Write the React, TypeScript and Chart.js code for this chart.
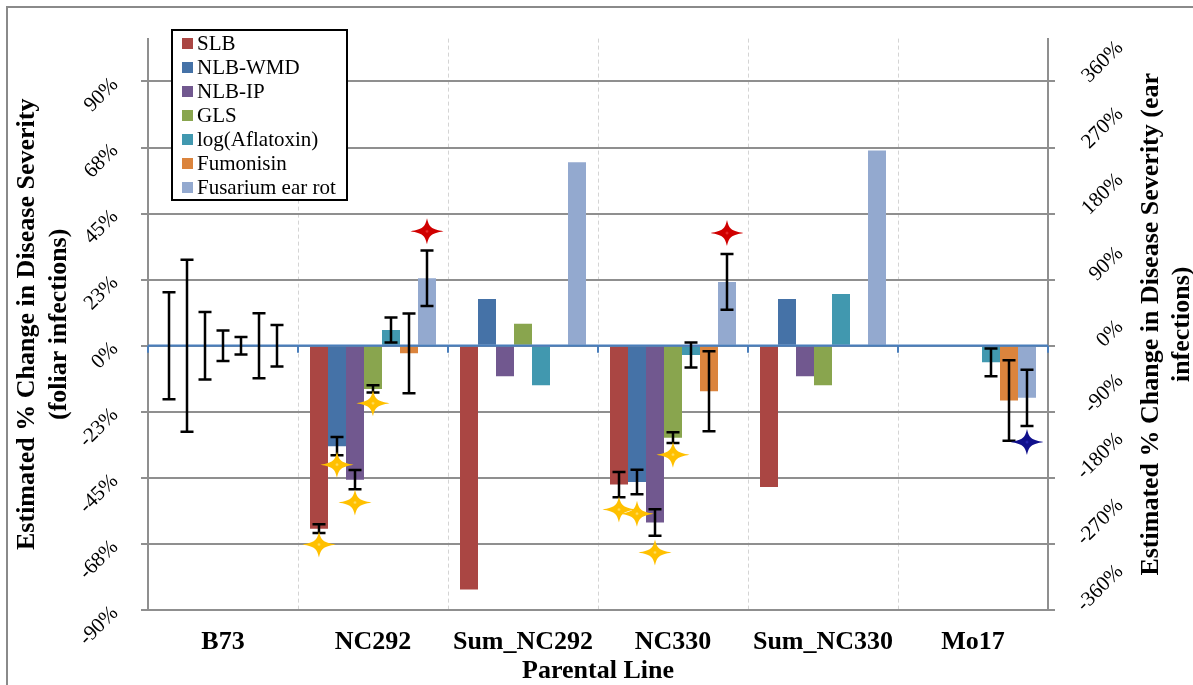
import React, { useEffect, useRef } from 'react';
import { Chart, registerables } from 'chart.js';

Chart.register(...registerables);

// ---------- data ----------
const CATEGORIES = ['B73', 'NC292', 'Sum_NC292', 'NC330', 'Sum_NC330', 'Mo17'];

const SERIES_NAMES = ['SLB', 'NLB-WMD', 'NLB-IP', 'GLS', 'log(Aflatoxin)', 'Fumonisin', 'Fusarium ear rot'];
// foliar series on the left axis, ear series on the right axis
const SERIES_AXIS = ['y', 'y', 'y', 'y', 'y2', 'y2', 'y2'];

// estimated % change (left-axis series in left units, ear series in right-axis units)
const SLB = [0, -62.3, -83.0, -47.3, -48.1, null];
const NLB_WMD = [0, -34.2, 15.9, -46.4, 15.9, null];
const NLB_IP = [0, -45.6, -10.4, -60.2, -10.4, null];
const GLS = [0, -14.7, 7.5, -31.3, -13.5, null];
const LOG_AFLATOXIN = [0, 21.3, -53.9, -12.6, 70.6, -22.6];
const FUMONISIN = [0, -10.4, null, -62.0, null, -74.7];
const FUSARIUM_EAR_ROT = [0, 91.9, 250.0, 86.9, 266.0, -71.0];

// error-bar half widths (same units as the series)
const SLB_ERR = [18.2, 1.5, null, 4.3, null, null];
const NLB_WMD_ERR = [29.3, 3.1, null, 4.2, null, null];
const NLB_IP_ERR = [11.5, 3.3, null, 4.5, null, null];
const GLS_ERR = [5.2, 1.2, null, 1.8, null, null];
const LOG_AFLATOXIN_ERR = [12.0, 17.0, null, 17.0, null, 19.0];
const FUMONISIN_ERR = [44.4, 54.3, null, 54.6, null, 54.8];
const FUSARIUM_EAR_ROT_ERR = [28.3, 37.8, null, 38.0, null, 38.3];

// significance markers: [category, series, value on the series' axis, kind]
const STAR_MARKS: [string, string, number, string][] = [
  ['NC292', 'SLB', -67.7, 'foliarDecrease'],
  ['NC292', 'NLB-WMD', -40.5, 'foliarDecrease'],
  ['NC292', 'NLB-IP', -53.4, 'foliarDecrease'],
  ['NC292', 'GLS', -19.6, 'foliarDecrease'],
  ['NC292', 'Fusarium ear rot', 155.8, 'earIncrease'],
  ['NC330', 'SLB', -55.8, 'foliarDecrease'],
  ['NC330', 'NLB-WMD', -57.2, 'foliarDecrease'],
  ['NC330', 'NLB-IP', -70.4, 'foliarDecrease'],
  ['NC330', 'GLS', -37.1, 'foliarDecrease'],
  ['NC330', 'Fusarium ear rot', 153.5, 'earIncrease'],
  ['Mo17', 'Fusarium ear rot', -131.3, 'earDecrease'],
];

const LEFT_TICKS = [-90, -67.5, -45, -22.5, 0, 22.5, 45, 67.5, 90];
const LEFT_TICK_LABELS = ['-90%', '-68%', '-45%', '-23%', '0%', '23%', '45%', '68%', '90%'];
const RIGHT_TICKS = [-360, -270, -180, -90, 0, 90, 180, 270, 360];
const RIGHT_TICK_LABELS = ['-360%', '-270%', '-180%', '-90%', '0%', '90%', '180%', '270%', '360%'];

const LEFT_TITLE = ['Estimated % Change in Disease Severity', '(foliar infections)'];
const RIGHT_TITLE = ['Estimated % Change in Disease Severity (ear', 'infections)'];
const X_TITLE = 'Parental Line';

// ---------- styles ----------
const SERIES_COLORS = ['#AA4643', '#4572A7', '#71588F', '#89A54E', '#4198AF', '#DB843D', '#93A9CF'];
const STAR_STYLE: Record<string, [string, string]> = {
  foliarDecrease: ['#FFE680', '#FFC000'],
  earIncrease: ['#F04040', '#D00000'],
  earDecrease: ['#3030C0', '#10108C'],
};
const SERIF = '"Liberation Serif", "Times New Roman", serif';
const GRID = '#8f8f8f';

const ALL_VALUES = [SLB, NLB_WMD, NLB_IP, GLS, LOG_AFLATOXIN, FUMONISIN, FUSARIUM_EAR_ROT];
const ALL_ERRS = [SLB_ERR, NLB_WMD_ERR, NLB_IP_ERR, GLS_ERR, LOG_AFLATOXIN_ERR, FUMONISIN_ERR, FUSARIUM_EAR_ROT_ERR];

function drawStar(ctx: CanvasRenderingContext2D, cx: number, cy: number, rx: number, ry: number, inner: string, outer: string) {
  const g = ctx.createRadialGradient(cx, cy, 0, cx, cy, ry);
  g.addColorStop(0, inner);
  g.addColorStop(0.15, outer);
  g.addColorStop(1, outer);
  ctx.fillStyle = g;
  const a = 2.0, b = 4.2;
  ctx.beginPath();
  ctx.moveTo(cx, cy - ry);
  ctx.bezierCurveTo(cx + a, cy - b, cx + b, cy - a, cx + rx, cy);
  ctx.bezierCurveTo(cx + b, cy + a, cx + a, cy + b, cx, cy + ry);
  ctx.bezierCurveTo(cx - a, cy + b, cx - b, cy + a, cx - rx, cy);
  ctx.bezierCurveTo(cx - b, cy - a, cx - a, cy - b, cx, cy - ry);
  ctx.closePath();
  ctx.fill();
}

const decorPlugin = {
  id: 'decor',
  beforeDraw(chart: any) {
    const ctx = chart.ctx as CanvasRenderingContext2D;
    ctx.save();
    ctx.fillStyle = '#ffffff';
    ctx.fillRect(0, 0, chart.width, chart.height);
    ctx.strokeStyle = '#8a8a8a';
    ctx.lineWidth = 2;
    ctx.beginPath();
    ctx.moveTo(7, chart.height + 2);
    ctx.lineTo(7, 7);
    ctx.lineTo(chart.width + 2, 7);
    ctx.stroke();
    ctx.restore();
  },
  afterDatasetsDraw(chart: any) {
    const ctx = chart.ctx as CanvasRenderingContext2D;
    const area = chart.chartArea;
    const xs = chart.scales.x;
    const ys = chart.scales.y;
    const y0 = ys.getPixelForValue(0);
    ctx.save();
    // horizontal axis crossing at zero
    ctx.strokeStyle = '#4A7EBB';
    ctx.lineWidth = 2.25;
    ctx.beginPath();
    ctx.moveTo(area.left, y0);
    ctx.lineTo(area.right, y0);
    ctx.stroke();
    ctx.lineWidth = 2;
    for (let i = 0; i <= CATEGORIES.length; i++) {
      const bx = xs.getPixelForValue(i - 0.5);
      ctx.beginPath();
      ctx.moveTo(bx, y0);
      ctx.lineTo(bx, y0 + 7);
      ctx.stroke();
    }
    // error bars
    ctx.strokeStyle = '#000000';
    ctx.lineWidth = 2.5;
    ALL_ERRS.forEach((errs, di) => {
      const meta = chart.getDatasetMeta(di);
      const scale = chart.scales[SERIES_AXIS[di]];
      errs.forEach((e, j) => {
        if (e == null) return;
        const v = ALL_VALUES[di][j] ?? 0;
        const el = meta.data[j];
        if (!el) return;
        const cx = Math.round(el.x);
        const top = scale.getPixelForValue(v + e);
        const bot = scale.getPixelForValue(v - e);
        ctx.beginPath();
        ctx.moveTo(cx, top);
        ctx.lineTo(cx, bot);
        ctx.moveTo(cx - 6.5, top);
        ctx.lineTo(cx + 6.5, top);
        ctx.moveTo(cx - 6.5, bot);
        ctx.lineTo(cx + 6.5, bot);
        ctx.stroke();
      });
    });
    // significance stars
    STAR_MARKS.forEach(([cat, ser, val, kind]) => {
      const di = SERIES_NAMES.indexOf(ser);
      const j = CATEGORIES.indexOf(cat);
      const el = chart.getDatasetMeta(di).data[j];
      const scale = chart.scales[SERIES_AXIS[di]];
      const [inner, outer] = STAR_STYLE[kind];
      drawStar(ctx, el.x, scale.getPixelForValue(val), 16.5, 13, inner, outer);
    });
    ctx.restore();
  },
  afterDraw(chart: any) {
    const ctx = chart.ctx as CanvasRenderingContext2D;
    const area = chart.chartArea;
    const y2 = chart.scales.y2;
    ctx.save();
    // right-axis tick labels, rotated
    ctx.fillStyle = '#000';
    ctx.font = `21px ${SERIF}`;
    ctx.textAlign = 'left';
    ctx.textBaseline = 'middle';
    y2.ticks.forEach((t: any, i: number) => {
      const label = RIGHT_TICK_LABELS[i];
      const py = y2.getPixelForValue(t.value);
      const w = ctx.measureText(label).width;
      const sx = y2.left + 77 - 0.707 * w - 5;
      const sy = py - 2;
      ctx.save();
      ctx.translate(sx, sy);
      ctx.rotate(-Math.PI / 4);
      ctx.fillText(label, 0, 0);
      ctx.restore();
    });
    // right-axis title
    ctx.font = `bold 26px ${SERIF}`;
    ctx.textAlign = 'center';
    ctx.textBaseline = 'middle';
    ctx.save();
    ctx.translate(y2.left + 103, (area.top + area.bottom) / 2);
    ctx.rotate(-Math.PI / 2);
    ctx.fillText(RIGHT_TITLE[0], 0, 0);
    ctx.fillText(RIGHT_TITLE[1], 0, 31);
    ctx.restore();
    // legend box inside the plot
    const lx = 172, ly = 30, lw = 175, lh = 170;
    ctx.fillStyle = '#ffffff';
    ctx.fillRect(lx, ly, lw, lh);
    ctx.strokeStyle = '#000000';
    ctx.lineWidth = 2;
    ctx.strokeRect(lx, ly, lw, lh);
    ctx.font = `21px ${SERIF}`;
    ctx.textAlign = 'left';
    ctx.textBaseline = 'middle';
    chart.data.datasets.forEach((ds: any, i: number) => {
      const cy = ly + 13 + i * 24;
      ctx.fillStyle = ds.backgroundColor;
      ctx.fillRect(lx + 10, cy - 5, 11, 11);
      ctx.fillStyle = '#000';
      ctx.fillText(ds.label, lx + 25, cy + 1);
    });
    ctx.restore();
  },
};

export default function App() {
  const canvasRef = useRef<HTMLCanvasElement | null>(null);

  useEffect(() => {
    if (!canvasRef.current) return;
    const chart = new Chart(canvasRef.current, {
      type: 'bar',
      data: {
        labels: CATEGORIES,
        datasets: SERIES_NAMES.map((name, i) => ({
          label: name,
          data: ALL_VALUES[i],
          backgroundColor: SERIES_COLORS[i],
          borderWidth: 0,
          yAxisID: SERIES_AXIS[i],
          categoryPercentage: 0.84,
          barPercentage: 1.0,
        })),
      },
      options: {
        responsive: false,
        animation: false,
        layout: { padding: { top: 37, left: 0, right: 0, bottom: 0 } },
        plugins: {
          legend: { display: false },
          tooltip: { enabled: false },
        },
        scales: {
          x: {
            type: 'category',
            offset: true,
            grid: {
              offset: true,
              drawTicks: false,
              lineWidth: 1,
              color: (c: any) => (c.index === 0 || c.index === CATEGORIES.length ? 'rgba(0,0,0,0)' : '#d4d4d4'),
            },
            border: { display: false, dash: [4, 3] },
            ticks: {
              color: '#000',
              font: { family: SERIF, size: 26, weight: 'bold' },
              padding: 17,
              maxRotation: 0,
              minRotation: 0,
              autoSkip: false,
            },
            title: {
              display: true,
              text: X_TITLE,
              color: '#000',
              font: { family: SERIF, size: 26, weight: 'bold', lineHeight: 1.05 },
              padding: 0,
            },
            afterFit: (s: any) => { s.height = 75; },
          },
          y: {
            position: 'left',
            min: -90,
            max: 104.6,
            afterBuildTicks: (s: any) => { s.ticks = LEFT_TICKS.map((v) => ({ value: v })); },
            ticks: {
              color: '#000',
              font: { family: SERIF, size: 21 },
              minRotation: 45,
              maxRotation: 45,
              padding: 26,
              autoSkip: false,
              callback: (_v: any, i: number) => LEFT_TICK_LABELS[i],
            },
            grid: { color: GRID, lineWidth: 2, tickLength: 7 },
            border: { color: GRID, width: 2 },
            title: {
              display: true,
              text: LEFT_TITLE,
              color: '#000',
              font: { family: SERIF, size: 26, weight: 'bold' },
              padding: { top: 12, bottom: 0 },
            },
            afterFit: (s: any) => { s.width = 148; },
          },
          y2: {
            position: 'right',
            min: -360,
            max: 418.4,
            afterBuildTicks: (s: any) => { s.ticks = RIGHT_TICKS.map((v) => ({ value: v })); },
            ticks: { display: false },
            grid: { drawOnChartArea: false, color: GRID, lineWidth: 2, tickLength: 7 },
            border: { color: GRID, width: 2 },
            afterFit: (s: any) => { s.width = 145; },
          },
        },
      } as any,
      plugins: [decorPlugin],
    });
    return () => chart.destroy();
  }, []);

  return (
    <div style={{ position: 'fixed', left: 0, top: 0, width: 1193, height: 685, background: '#fff' }}>
      <canvas ref={canvasRef} width={1193} height={685} style={{ width: 1193, height: 685, display: 'block' }} />
    </div>
  );
}
